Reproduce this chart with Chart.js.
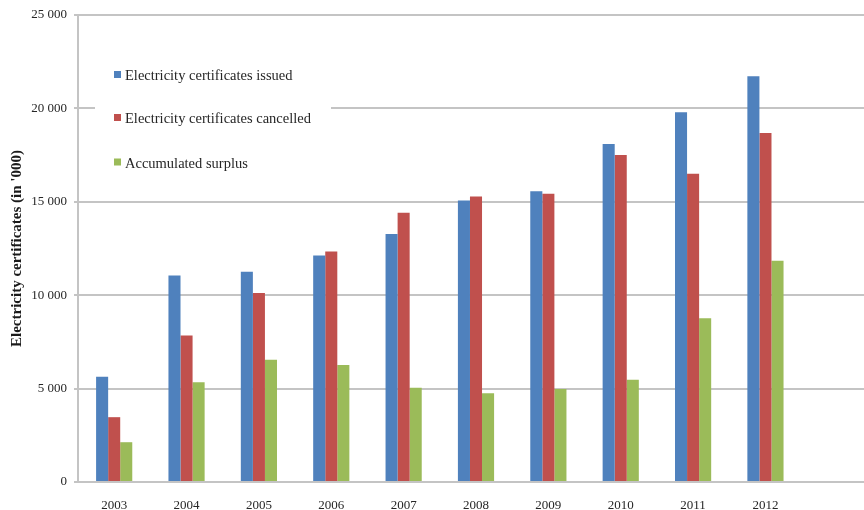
<!DOCTYPE html>
<html>
<head>
<meta charset="utf-8">
<script src="https://cdn.jsdelivr.net/npm/chart.js@4.4.1/dist/chart.umd.min.js"></script>
<style>
  html, body { margin: 0; padding: 0; background: #ffffff; overflow: hidden; }
  #wrap { width: 864px; height: 510px; overflow: hidden; position: relative; }
  canvas { display: block; }
</style>
</head>
<body>
<div id="wrap"><canvas id="chart" width="875" height="510"></canvas></div>
<script>
// Electricity certificates per year (in '000)
const years = ['2003', '2004', '2005', '2006', '2007', '2008', '2009', '2010', '2011', '2012'];
const issued    = [5640, 11050, 11260, 12120, 13270, 15070, 15570, 18090, 19800, 21720];
const cancelled = [3470,  7840, 10120, 12340, 14420, 15280, 15430, 17500, 16500, 18680];
const surplus   = [2130,  5340,  6550,  6270,  5050,  4750,  4980,  5480,  8770, 11850];
const yTicks = [0, 5000, 10000, 15000, 20000, 25000];

const seriesNames = [
  'Electricity certificates issued',
  'Electricity certificates cancelled',
  'Accumulated surplus'
];
const seriesColors = ['#4F81BD', '#C0504D', '#9BBB59'];

const serif = "'Liberation Serif', 'Times New Roman', serif";
const gridGray = '#c4c4c4';

function spaced(v) {
  return String(v).replace(/\B(?=(\d{3})+(?!\d))/g, ' ');
}

// Legend drawn inside the plot area on a white panel
const insideLegend = {
  id: 'insideLegend',
  afterDatasetsDraw(chart) {
    const ctx = chart.ctx;
    ctx.save();
    ctx.fillStyle = '#ffffff';
    ctx.fillRect(95, 48, 236, 138);
    const rows = [75.5, 118.5, 163];
    ctx.font = '14.5px ' + serif;
    ctx.textBaseline = 'middle';
    ctx.textAlign = 'left';
    chart.data.datasets.forEach((ds, i) => {
      ctx.fillStyle = ds.backgroundColor;
      ctx.fillRect(114, rows[i] - 4.5, 7, 7);
      ctx.fillStyle = '#262626';
      ctx.fillText(ds.label, 125, rows[i] + 1);
    });
    ctx.restore();
  }
};

const datasets = [issued, cancelled, surplus].map((vals, i) => ({
  label: seriesNames[i],
  data: vals,
  backgroundColor: seriesColors[i],
  borderWidth: 0,
  categoryPercentage: 0.5,
  barPercentage: 1.0
}));

new Chart(document.getElementById('chart'), {
  type: 'bar',
  data: {
    // trailing empty slot leaves the open space right of 2012
    labels: years.concat(['']),
    datasets: datasets
  },
  options: {
    responsive: false,
    animation: false,
    devicePixelRatio: 1,
    layout: { padding: { top: 15, right: 1, bottom: 0, left: 0 } },
    plugins: {
      legend: { display: false },
      tooltip: { enabled: false }
    },
    scales: {
      x: {
        grid: { display: false },
        border: { display: true, color: gridGray, width: 2 },
        ticks: {
          color: '#262626',
          font: { family: serif, size: 13 },
          padding: 8,
          maxRotation: 0,
          autoSkip: false
        },
        afterFit(scale) { scale.height = 28; }
      },
      y: {
        min: 0,
        max: 25000,
        afterBuildTicks(scale) { scale.ticks = yTicks.map(v => ({ value: v })); },
        grid: {
          color: gridGray,
          lineWidth: 2,
          drawTicks: true,
          tickLength: 4
        },
        border: { display: true, color: gridGray, width: 2 },
        ticks: {
          color: '#262626',
          font: { family: serif, size: 13 },
          padding: 7,
          callback: v => spaced(v)
        },
        title: {
          display: true,
          text: "Electricity certificates (in '000)",
          color: '#1a1a1a',
          font: { family: serif, size: 15, weight: 'bold' },
          padding: { top: 8, bottom: 0 }
        },
        afterFit(scale) { scale.width = 78; }
      }
    }
  },
  plugins: [insideLegend]
});
</script>
</body>
</html>
